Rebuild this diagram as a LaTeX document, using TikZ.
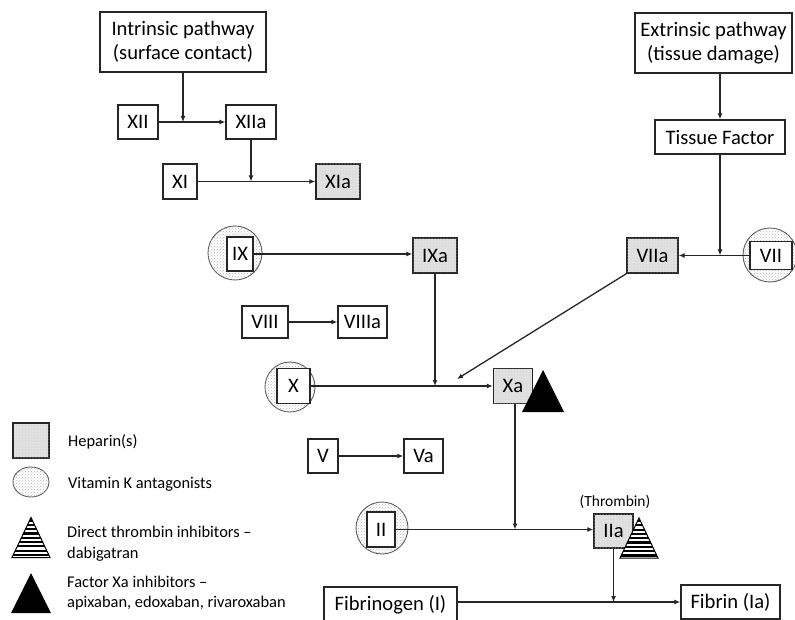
\documentclass[tikz,border=0pt]{standalone}
\usepackage{fontspec}
\setmainfont{Carlito}
\usetikzlibrary{arrows.meta,patterns,shapes.geometric}
\begin{document}
\begin{tikzpicture}[x=1pt,y=-1pt,
  box/.style={draw=black!85, line width=1.4pt, fill=white, inner sep=0pt, minimum height=34pt, font=\fontsize{20.6}{24.5}\selectfont},
  hep/.style={box, fill=gray!27, postaction={pattern=dots, pattern color=white}},
  vka/.style={circle, draw=black!65, line width=0.9pt, fill=white, postaction={pattern=crosshatch dots, pattern color=gray!55}, inner sep=0pt},
  arr/.style={-{Latex[length=6pt,width=5pt]}, line width=1.3pt, draw=black!85},
  lab/.style={font=\fontsize{16.4}{20.5}\selectfont, anchor=west, align=left, inner sep=0pt},
  stri/.pic={
    \begin{scope}
      \clip (0,-20) -- (19,20) -- (-19,20) -- cycle;
      \fill[white] (-20,-21) rectangle (20,21);
      \foreach \i in {0,...,9} \draw[line width=2.2pt] (-20,-17+4.3*\i) -- (20,-17+4.3*\i);
    \end{scope}
    \draw[line width=1pt, line join=miter] (0,-20) -- (19,20) -- (-19,20) -- cycle;
  }
]
\useasboundingbox (0,0) rectangle (795,620);

% pathway boxes
\node[box, minimum width=166pt, minimum height=60pt, align=center] (intr) at (183,42) {Intrinsic pathway\\(surface contact)};
\node[box, minimum width=157pt, minimum height=60pt, align=center] (extr) at (713.5,43) {Extrinsic pathway\\(tissue damage)};
\node[box, minimum width=130pt] (tf) at (720,137) {Tissue Factor};

% intrinsic cascade
\node[box, minimum width=40pt] (XII) at (138,122) {XII};
\node[box, minimum width=50pt] (XIIa) at (251,122) {XIIa};
\node[box, minimum width=34pt, minimum height=35pt] (XI) at (180,181.5) {XI};
\node[hep, minimum width=44pt, minimum height=35pt] (XIa) at (338,181.5) {XIa};

\node[vka, minimum size=54pt] (IXc) at (235,253) {};
\node[box, minimum width=26pt] (IX) at (240,254) {IX};
\node[hep, minimum width=44pt, minimum height=35pt] (IXa) at (435,255.5) {IXa};

\node[hep, minimum width=51pt, minimum height=35pt] (VIIa) at (652.5,255.5) {VIIa};
\node[vka, minimum size=54pt] (VIIc) at (770,255) {};
\node[box, minimum width=42pt, minimum height=28pt] (VII) at (771,255.5) {VII};

\node[box, minimum width=46pt, minimum height=32pt] (VIII) at (265,322) {VIII};
\node[box, minimum width=49pt, minimum height=32pt] (VIIIa) at (362.5,322) {VIIIa};

\node[vka, minimum size=50pt] (Xc) at (290,387) {};
\node[box, minimum width=33pt, minimum height=35pt] (X) at (293.5,386) {X};
\node[hep, minimum width=39pt, minimum height=35pt] (Xa) at (513,386) {Xa};

\node[box, minimum width=30pt] (V) at (323,456) {V};
\node[box, minimum width=39pt] (Va) at (423.5,456) {Va};

\node[vka, minimum size=52pt] (IIc) at (382,528) {};
\node[box, minimum width=28pt, minimum height=35pt] (II) at (381,529.5) {II};
\node[hep, minimum width=39pt] (IIa) at (613.5,531) {IIa};
\node[font=\fontsize{15.5}{18}\selectfont, inner sep=0pt] (thr) at (615,502) {(Thrombin)};

\node[box, minimum width=133pt, minimum height=36pt] (fbg) at (390.5,605) {Fibrinogen (I)};
\node[box, minimum width=99pt] (fbn) at (730.5,602) {Fibrin (Ia)};

% junction points
\coordinate (j1) at (183,122);
\coordinate (j2) at (251,181.5);
\coordinate (j3) at (720,255.5);
\coordinate (j4) at (435,386);
\coordinate (j5) at (457,379);
\coordinate (j6) at (515,529.5);
\coordinate (j7) at (613.5,602);

% connectors
\draw[arr] (intr.south) -- (j1);
\draw[arr] (extr.south -| tf.north) -- (tf.north);
\draw[arr] (XII.east) -- (XIIa.west);
\draw[arr] (XIIa.south) -- (j2);
\draw[arr] (XI.east) -- (XIa.west);
\draw[arr] (tf.south) -- (j3);
\draw[arr] (VII.west) -- (VIIa.east);
\draw[arr] (IX.east) -- (IXa.west |- IX.east);
\draw[arr] (IXa.south) -- (j4);
\draw[arr] (VIIa.south west) -- (j5);
\draw[arr] (VIII.east) -- (VIIIa.west);
\draw[arr] (X.east) -- (Xa.west);
\draw[arr] (Xa.south -| j6) -- (j6);
\draw[arr] (V.east) -- (Va.west);
\draw[arr] (II.east) -- (IIa.west |- II.east);
\draw[arr] (IIa.south) -- (j7);
\draw[arr] (fbg.east |- fbn.west) -- (fbn.west);

% inhibitor marks
\fill (543,370) -- (564,412) -- (522,412) -- cycle;
\pic at (639,538) {stri};

% legend
\node[hep, minimum width=36pt, minimum height=35pt] (lgH) at (31,440.5) {};
\node[lab] (tH) at (68,442) {Heparin(s)};
\node[vka, ellipse, minimum width=36pt, minimum height=30pt] (lgV) at (31,482) {};
\node[lab] (tV) at (68,484) {Vitamin K antagonists};
\pic at (31,537.5) {stri};
\node[lab] (tD) at (67,543.5) {Direct thrombin inhibitors –\\dabigatran};
\fill (31,573) -- (51,613) -- (11,613) -- cycle;
\node[lab] (tF) at (67,593) {Factor Xa inhibitors –\\apixaban, edoxaban, rivaroxaban};
\end{tikzpicture}
\end{document}
